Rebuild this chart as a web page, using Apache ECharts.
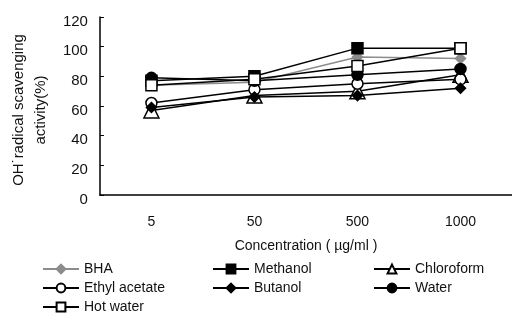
<!DOCTYPE html>
<html>
<head>
<meta charset="utf-8">
<script src="https://cdn.jsdelivr.net/npm/echarts@6/dist/echarts.min.js"></script>
<style>
  html, body { margin: 0; padding: 0; background: #fff; }
  #chart { width: 512px; height: 323px; }
</style>
</head>
<body>
<div id="chart"></div>
<script>
// concentrations (µg/ml)
const categories = ['5', '50', '500', '1000'];

// OH radical scavenging activity (%)
const bha = [74, 76, 93, 92];
const methanol = [77, 80, 99, 99];
const chloroform = [57, 67, 70, 81];
const ethylAcetate = [62, 71, 75, 78];
const butanol = [59, 66, 67, 72];
const water = [79, 77, 81, 85];
const hotWater = [74, 78, 87, 99];

const yTicks = { min: 0, max: 120, interval: 20 };

const FONT = 'Liberation Sans';
const BLACK = '#000';

function mkSeries(name, data, symbol, fill, size, lineColor) {
  return {
    name: name,
    type: 'line',
    data: data,
    symbol: symbol,
    symbolSize: size,
    showAllSymbol: true,
    lineStyle: { color: lineColor || BLACK, width: 1.5 },
    itemStyle: { color: fill, borderColor: lineColor || BLACK, borderWidth: 1.5 },
    emphasis: { disabled: true }
  };
}

const series = [
  mkSeries('BHA', bha, 'diamond', '#8c8c8c', 10, '#8c8c8c'),
  mkSeries('Methanol', methanol, 'rect', BLACK, 11),
  mkSeries('Chloroform', chloroform, 'triangle', '#fff', 15),
  mkSeries('Ethyl acetate', ethylAcetate, 'circle', '#fff', 11),
  mkSeries('Butanol', butanol, 'diamond', BLACK, 10),
  mkSeries('Water', water, 'circle', BLACK, 11),
  mkSeries('Hot water', hotWater, 'rect', '#fff', 11)
];

function legendCol(left, names) {
  return {
    orient: 'vertical',
    left: left,
    top: 262,
    itemWidth: 36,
    itemHeight: 11,
    itemGap: 5,
    padding: 0,
    data: names,
    selectedMode: false,
    textStyle: { fontFamily: FONT, fontSize: 14, color: '#111' }
  };
}

const myChart = echarts.init(document.getElementById('chart'));
myChart.setOption({
  animation: false,
  backgroundColor: '#fff',
  grid: { left: 88, right: -9, top: 17, bottom: 128 },
  legend: [
    legendCol(42, ['BHA', 'Ethyl acetate', 'Hot water']),
    legendCol(212, ['Methanol', 'Butanol']),
    legendCol(373, ['Chloroform', 'Water'])
  ],
  xAxis: {
    type: 'category',
    data: categories,
    boundaryGap: true,
    name: 'Concentration ( µg/ml )',
    nameLocation: 'middle',
    nameGap: 44,
    nameTextStyle: { fontFamily: FONT, fontSize: 14, color: '#111' },
    axisLine: { lineStyle: { color: BLACK, width: 1.5 } },
    axisTick: { inside: true, length: 4, lineStyle: { color: BLACK } },
    axisLabel: { fontFamily: FONT, fontSize: 14, color: '#111', margin: 20 }
  },
  yAxis: {
    type: 'value',
    min: yTicks.min,
    max: yTicks.max,
    interval: yTicks.interval,
    name: 'OH˙radical scavenging\nactivity(%)',
    nameLocation: 'middle',
    nameRotate: 90,
    nameGap: 40,
    nameTextStyle: { fontFamily: FONT, fontSize: 15, color: '#111', lineHeight: 22, padding: [0, 8, 0, 0] },
    axisLine: { show: true, lineStyle: { color: BLACK, width: 1.5 } },
    axisTick: { show: true, inside: true, length: 4, lineStyle: { color: BLACK } },
    splitLine: { show: false },
    axisLabel: { fontFamily: FONT, fontSize: 15, color: '#111', margin: 12, verticalAlign: 'top', padding: [-3, 0, 0, 0] }
  },
  series: series
});
</script>
</body>
</html>
